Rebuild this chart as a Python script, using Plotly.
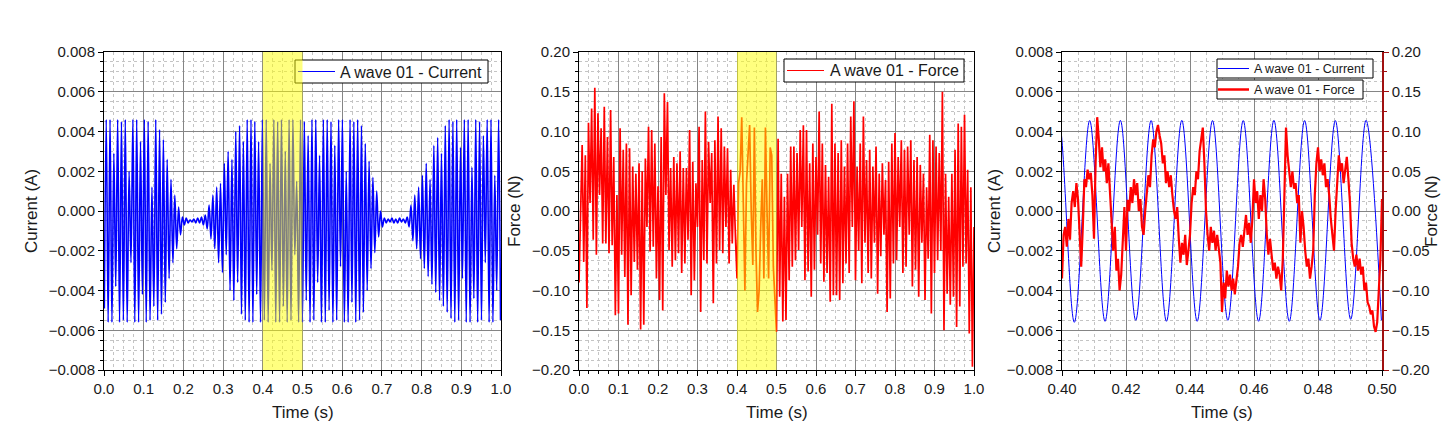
import numpy as np
import plotly.graph_objects as go

PAGE_W, PAGE_H = 1449, 446
BODY_MARGIN = 8  # default page margin around the plot div
W, H = PAGE_W - 2 * BODY_MARGIN, PAGE_H - 2 * BODY_MARGIN
FONT = "Liberation Sans, Arial, sans-serif"

# ---------------- data ----------------
# Current: a ~104 Hz sine. Times of the extrema follow the sampling of the record.
current_period_s = 0.009596
current_first_trough_s = 0.00082

# value of each positive peak (mA), cycles k = 0..103 (as drawn in the 0-1 s overview)
current_peaks_mA = [
    4.6, 4.6, 2.9, 4.6, 4.5, 4.6, 2.0, 4.6, 4.6, 3.5, 4.6, 4.5, 1.2, 4.6,
    4.1, 3.6, 2.6, 1.6, 0.8, 0.2, -0.3,
    -0.35, -0.45, -0.4, -0.35, -0.3, -0.2,
    0.3, 0.8, 1.2, 1.4, 2.4, 3.0, 2.6, 4.0, 4.3, 3.5, 4.6,
    4.6, 4.5, 3.5, 4.6, 4.6, 2.4, 4.6, 4.5, 4.6, 3.0, 4.6, 4.6, 1.5, 4.6,
    4.5, 3.8, 4.6, 4.6, 2.8, 4.6, 4.6, 4.5, 3.3, 4.6, 4.6, 2.0, 4.6, 4.5,
    4.6, 4.3, 3.4, 2.5, 1.7, 1.0, 0.0,
    -0.35, -0.4, -0.35, -0.4, -0.35, -0.4, -0.3,
    0.3, 0.8, 1.2, 1.8, 2.4, 1.6, 3.3, 3.7, 2.9, 4.3, 4.6,
    4.5, 4.6, 3.2, 4.6, 4.6, 2.2, 4.6, 4.5, 3.8, 4.6, 4.6, 1.8, 4.6,
]
# value of each trough (mA), k = 0..104
current_troughs_mA = [
    -4.9, -5.6, -5.6, -3.8, -5.6, -5.5, -5.6, -2.6, -5.6, -5.6, -4.2, -5.6, -5.5, -4.8,
    -5.5, -5.2, -4.6, -3.4, -2.6, -1.9, -1.2, -0.7,
    -0.6, -0.55, -0.6, -0.6, -0.7,
    -0.9, -1.4, -1.9, -2.6, -3.1, -2.2, -4.0, -4.5, -3.6, -5.2, -5.5, -5.6,
    -5.6, -4.2, -5.6, -5.5, -5.6, -3.0, -5.6, -5.6, -4.8, -5.6, -5.5, -2.2, -5.6, -5.6,
    -4.5, -5.6, -5.5, -3.6, -5.6, -5.6, -5.0, -5.6, -5.5, -2.8, -5.6, -5.6, -4.6,
    -5.6, -5.5, -5.1, -4.0, -2.9, -2.1, -1.3, -0.8,
    -0.6, -0.55, -0.6, -0.6, -0.55, -0.6,
    -0.8, -1.5, -1.9, -2.4, -2.9, -3.3, -3.7, -4.1, -4.5, -4.8, -5.1, -5.4,
    -5.6, -5.5, -3.4, -5.6, -5.6, -4.4, -5.6, -5.5, -2.6, -5.6, -5.6, -4.0, -5.5,
]
# detailed view 0.40-0.50 s: cycles k = 41..51 (peaks) and 41..52 (troughs), mA
zoom_first_cycle = 41
current_zoom_peaks_mA = [4.55, 4.55, 4.56, 4.55, 4.56, 4.55, 4.55, 4.56, 4.55, 4.55, 4.56]
current_zoom_troughs_mA = [-5.55, -5.6, -5.55, -5.5, -5.55, -5.55, -5.5, -5.55, -5.55, -5.5, -5.45, -5.5]

# Force overview, one value every 4 ms from 0 to 1 s (N)
force_dt_s = 0.004
force_N = [
    -0.09, 0.02, 0.083, -0.064, 0.07, -0.122, 0.111, 0.01, 0.129, -0.036,
    0.155, -0.055, 0.123, 0.02, 0.104, -0.041, 0.131, -0.041, 0.093, -0.053,
    0.127, -0.043, 0.068, -0.131, 0.02, -0.129, 0.104, -0.055, 0.077, -0.083,
    0.085, -0.143, 0.079, -0.106, 0.056, -0.064, 0.047, -0.074, 0.06, -0.149,
    0.05, -0.143, 0.066, -0.02, 0.106, -0.051, 0.102, -0.045, 0.085, -0.085,
    0.031, -0.112, 0.093, -0.125, 0.148, 0.02, 0.137, -0.049, 0.054, -0.07,
    0.068, -0.062, 0.06, -0.053, 0.075, -0.078, 0.054, -0.066, 0.054, -0.036,
    0.102, -0.106, 0.062, -0.087, 0.035, -0.02, 0.106, -0.127, 0.064, -0.062,
    0.125, -0.066, 0.087, 0.01, 0.073, -0.116, 0.089, -0.066, 0.119, -0.049,
    0.104, -0.053, 0.081, -0.02, 0.079, -0.066, 0.052, -0.041, 0.033, -0.032,
    -0.085, 0.035, 0.05, 0.118, -0.02, -0.1, 0.035, 0.07, 0.108, 0.0,
    -0.068, 0.105, -0.05, -0.127, -0.1, -0.02, 0.04, -0.085, 0.105, 0.0,
    -0.085, 0.08, 0.07, -0.07, -0.12, -0.152, 0.091, -0.108, 0.047, -0.139,
    0.018, -0.137, 0.047, -0.087, 0.081, -0.07, 0.081, -0.062, 0.073, -0.049,
    0.102, -0.02, 0.108, -0.087, 0.102, -0.076, 0.06, -0.108, 0.085, -0.074,
    0.068, -0.03, 0.125, -0.066, 0.085, -0.089, 0.058, -0.078, 0.043, -0.114,
    0.135, -0.106, 0.085, -0.106, 0.073, -0.112, 0.089, -0.091, 0.056, -0.066,
    0.085, -0.078, 0.119, -0.02, 0.138, -0.087, 0.056, -0.05, 0.085, -0.091,
    0.119, -0.04, 0.064, -0.078, 0.077, -0.085, 0.056, -0.04, 0.081, -0.104,
    0.047, -0.057, 0.06, -0.03, 0.039, -0.127, 0.062, -0.11, 0.085, -0.066,
    0.098, -0.062, 0.068, -0.02, 0.089, -0.078, 0.077, -0.07, 0.081, -0.03,
    0.089, -0.095, 0.064, -0.074, 0.068, -0.108, 0.058, -0.04, 0.047, -0.112,
    0.03, -0.06, 0.096, -0.129, 0.089, -0.078, 0.081, -0.062, 0.073, -0.05,
    0.15, -0.15, 0.047, -0.104, 0.018, -0.118, 0.047, -0.108, 0.077, -0.146,
    0.11, -0.12, 0.106, -0.07, 0.121, -0.066, 0.052, -0.154, 0.03, -0.196,
    -0.02,
]

# Force detail 0.40-0.50 s, one value every 0.5 ms (N)
force_zoom_t0_s = 0.40
force_zoom_dt_s = 0.0005
force_zoom_N = [
    -0.085, -0.03, -0.02, -0.045, -0.01, -0.036, 0.01, 0.025, 0.005, 0.035,
    0.015, -0.04, -0.07, -0.02, 0.04, 0.03, 0.052, 0.04, 0.048, 0.02,
    -0.035, 0.06, 0.118, 0.09, 0.055, 0.08, 0.05, 0.065, 0.035, 0.06,
    0.02, -0.01, -0.05, -0.02, -0.075, -0.06, -0.1, -0.08, -0.04, 0.005,
    -0.05, 0.014, 0.0, 0.03, 0.01, 0.04, 0.02, 0.035, 0.0, 0.015,
    -0.02, -0.03, 0.0, 0.02, 0.045, 0.03, 0.07, 0.09, 0.08, 0.1,
    0.108, 0.095, 0.085, 0.06, 0.07, 0.035, 0.05, 0.03, 0.045, 0.02,
    0.0, -0.01, 0.005, -0.035, -0.065, -0.04, -0.055, -0.03, -0.068, -0.05,
    -0.03, 0.01, 0.03, 0.02, 0.05, 0.04, 0.075, 0.09, 0.105, 0.06,
    0.0, -0.03, -0.05, -0.02, -0.04, -0.025, -0.05, -0.03, -0.045, -0.065,
    -0.127, -0.09, -0.11, -0.075, -0.095, -0.08, -0.1, -0.085, -0.105, -0.09,
    -0.07, -0.04, -0.03, -0.045, -0.02, -0.005, -0.03, -0.015, -0.04, -0.01,
    0.04, 0.01, 0.025, -0.01, 0.02, 0.0, 0.04, 0.015, -0.03, -0.055,
    -0.035, -0.06, -0.075, -0.065, -0.085, -0.07, -0.08, -0.1, -0.06, 0.02,
    0.105, 0.07, 0.05, 0.03, 0.05, 0.028, 0.035, 0.01, 0.02, -0.04,
    0.0, -0.02, -0.05, -0.07, -0.06, -0.085, -0.07, -0.05, 0.02, 0.06,
    0.08, 0.05, 0.065, 0.045, 0.06, 0.03, 0.04, 0.02, -0.01, -0.03,
    -0.05, 0.0, 0.04, 0.07, 0.05, 0.06, 0.035, 0.05, 0.068, 0.04,
    0.01, -0.04, -0.06, -0.07, -0.055, -0.075, -0.06, -0.08, -0.07, -0.1,
    -0.09, -0.115, -0.12, -0.13, -0.125, -0.145, -0.152, -0.14, -0.1, -0.06,
    0.015,
]

highlight_window_s = [0.4, 0.5]
series_current = "A wave 01 - Current"
series_force = "A wave 01 - Force"
axis_time = "Time (s)"
axis_current = "Current (A)"
axis_force = "Force (N)"


# ---------------- assemble ----------------
def interleave(troughs, peaks):
    out = []
    for i, tr in enumerate(troughs):
        out.append(tr)
        if i < len(peaks):
            out.append(peaks[i])
    return out


cur_vals = np.array(interleave(current_troughs_mA, current_peaks_mA)) * 1e-3
cur_t = current_first_trough_s + np.arange(len(cur_vals)) * current_period_s / 2

zcur_vals = np.array(interleave(current_zoom_troughs_mA, current_zoom_peaks_mA)) * 1e-3
zcur_t = (current_first_trough_s + zoom_first_cycle * current_period_s
          + np.arange(len(zcur_vals)) * current_period_s / 2)

force_t = np.arange(len(force_N)) * force_dt_s
fz_t = force_zoom_t0_s + np.arange(len(force_zoom_N)) * force_zoom_dt_s


# page pixel -> paper fraction
def fx(px):
    return (px - BODY_MARGIN) / W


def fy(py):
    return 1 - (py - BODY_MARGIN) / H


TXT = "#1a1a1a"
DARKRED = "#a01010"
BLUE = "#0000ff"
RED = "#ff0000"
TICK_SIZE = 15


def axis(dtick, minor_dtick, rng, fmt, **kw):
    d = dict(
        range=rng, tickmode="linear", tick0=rng[0], dtick=dtick, tickformat=fmt,
        showline=True, linecolor="black", linewidth=1, mirror=True,
        ticks="outside", ticklen=5, tickwidth=1, tickcolor="black",
        showgrid=True, gridcolor="#858585", gridwidth=1, zeroline=False,
        tickfont=dict(family=FONT, size=TICK_SIZE, color=TXT),
        minor=dict(dtick=minor_dtick, tick0=rng[0], ticks="outside", ticklen=3,
                   tickcolor="black", showgrid=True, gridcolor="#c4c4c4",
                   griddash="dot", gridwidth=1),
        fixedrange=True, automargin=False,
    )
    d.update(kw)
    return d


fig = go.Figure()

fig.add_trace(go.Scatter(x=cur_t, y=cur_vals, mode="lines", name=series_current,
                         line=dict(color=BLUE, width=1.6, shape="spline", smoothing=1),
                         xaxis="x", yaxis="y", showlegend=False, hoverinfo="skip"))
fig.add_trace(go.Scatter(x=force_t, y=force_N, mode="lines", name=series_force,
                         line=dict(color=RED, width=1.7),
                         xaxis="x2", yaxis="y2", showlegend=False, hoverinfo="skip"))
fig.add_trace(go.Scatter(x=zcur_t, y=zcur_vals, mode="lines", name=series_current,
                         line=dict(color=BLUE, width=1, shape="spline", smoothing=1),
                         xaxis="x3", yaxis="y3", showlegend=False, hoverinfo="skip"))
fig.add_trace(go.Scatter(x=fz_t, y=force_zoom_N, mode="lines", name=series_force,
                         line=dict(color=RED, width=2.2),
                         xaxis="x3", yaxis="y4", showlegend=False, hoverinfo="skip"))

ydom = [fy(370), fy(52)]
panels_px = [(104, 501), (579, 974), (1062, 1382)]

fig.update_layout(
    width=W, height=H, margin=dict(l=0, r=0, t=0, b=0, autoexpand=False),
    paper_bgcolor="white", plot_bgcolor="white",
    font=dict(family=FONT, color=TXT),
    showlegend=False,
    xaxis=axis(0.1, 0.025, [0, 1], ".1f", domain=[fx(104), fx(501)], anchor="y"),
    yaxis=axis(0.002, 0.0005, [-0.008, 0.008], ".3f", domain=ydom, anchor="x"),
    xaxis2=axis(0.1, 0.025, [0, 1], ".1f", domain=[fx(579), fx(974)], anchor="y2"),
    yaxis2=axis(0.05, 0.0125, [-0.2, 0.2], ".2f", domain=ydom, anchor="x2"),
    xaxis3=axis(0.02, 0.005, [0.4, 0.5], ".2f", domain=[fx(1062), fx(1382)], anchor="y3"),
    yaxis3=axis(0.002, 0.0005, [-0.008, 0.008], ".3f", domain=ydom, anchor="x3", mirror=False),
    yaxis4=dict(
        range=[-0.2, 0.2], tickmode="linear", tick0=-0.2, dtick=0.05, tickformat=".2f",
        overlaying="y3", side="right", anchor="x3",
        showline=True, linecolor=DARKRED, linewidth=1.5,
        ticks="outside", ticklen=5, tickcolor=DARKRED, showgrid=False, zeroline=False,
        tickfont=dict(family=FONT, size=TICK_SIZE, color=TXT),
        minor=dict(dtick=0.025, tick0=-0.2, ticks="outside", ticklen=3,
                   tickcolor=DARKRED, showgrid=False),
        fixedrange=True, automargin=False,
    ),
)

# axis titles
TITLE_FONT = dict(family=FONT, size=17, color=TXT)
for (x0, x1) in panels_px:
    fig.add_annotation(text=axis_time, x=fx((x0 + x1) / 2), y=fy(412), xref="paper", yref="paper",
                       showarrow=False, font=TITLE_FONT, xanchor="center", yanchor="middle")
for text, xc in ((axis_current, 31), (axis_force, 514), (axis_current, 994), (axis_force, 1431)):
    fig.add_annotation(text=text, x=fx(xc), y=fy(211), xref="paper", yref="paper", textangle=-90,
                       showarrow=False, font=TITLE_FONT, xanchor="center", yanchor="middle")

# legends (box, line sample, label), drawn before the highlight so the highlight tints them
legends = [
    # box x0, x1, y0, y1, line x0, x1, text x, label, colour, line width, font size
    (295, 488, 60, 83, 298, 335, 338, series_current, BLUE, 1.2, 16),
    (784, 964, 59, 82, 787, 824, 828, series_force, RED, 1.2, 16),
    (1217, 1373, 59, 78, 1218, 1249, 1252, series_current, BLUE, 1, 12.5),
    (1217, 1363, 80, 99, 1218, 1249, 1252, series_force, RED, 2.5, 12.5),
]
for bx0, bx1, by0, by1, lx0, lx1, tx, label, col, lw, fs in legends:
    fig.add_shape(type="rect", xref="paper", yref="paper", x0=fx(bx0), x1=fx(bx1),
                  y0=fy(by1), y1=fy(by0), fillcolor="white",
                  line=dict(color="black", width=1), layer="above")
    ym = (by0 + by1) / 2
    fig.add_shape(type="line", xref="paper", yref="paper", x0=fx(lx0), x1=fx(lx1),
                  y0=fy(ym), y1=fy(ym), line=dict(color=col, width=lw), layer="above")
    fig.add_annotation(text=label, x=fx(tx), y=fy(ym + 0.5), xref="paper", yref="paper",
                       showarrow=False, xanchor="left", yanchor="middle",
                       font=dict(family=FONT, size=fs, color=TXT))

for xr, yr in (("x", "y"), ("x2", "y2")):
    fig.add_shape(type="rect", xref=xr, yref=yr + " domain",
                  x0=highlight_window_s[0], x1=highlight_window_s[1], y0=0, y1=1,
                  fillcolor="#ffff00", opacity=0.5, line=dict(width=0), layer="above")

fig.write_html("out.html")
